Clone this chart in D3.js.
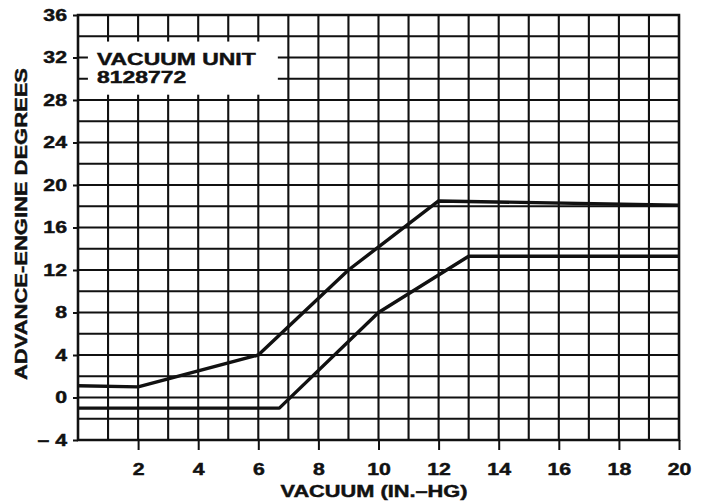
<!DOCTYPE html>
<html>
<head>
<meta charset="utf-8">
<script src="https://cdn.jsdelivr.net/npm/d3@7"></script>
<style>
  html, body { margin: 0; padding: 0; background: #fff; }
  svg { display: block; }
  text { font-family: "Liberation Sans", Arial, Helvetica, sans-serif; font-weight: bold; fill: #111; stroke: #111; stroke-width: 0.45px; }
</style>
</head>
<body>
<svg id="chart" width="702" height="504"></svg>
<script>
// Vacuum advance curves: upper and lower limits (degrees vs in. Hg)
const upperVacuum  = [0, 2, 6, 9, 12, 20];
const upperAdvance = [1.1, 1.0, 4.0, 12.0, 18.5, 18.1];
const lowerVacuum  = [0, 6.7, 10, 13, 20];
const lowerAdvance = [-1.0, -1.0, 8.0, 13.3, 13.3];

const xTickValues = [2, 4, 6, 8, 10, 12, 14, 16, 18, 20];
const xTickLabels = ["2", "4", "6", "8", "10", "12", "14", "16", "18", "20"];
const yTickValues = [-4, 0, 4, 8, 12, 16, 20, 24, 28, 32, 36];
const yTickLabels = ["\u2013 4", "0", "4", "8", "12", "16", "20", "24", "28", "32", "36"];

const unitTitle = "VACUUM UNIT";
const unitNumber = "8128772";
const xTitle = "VACUUM (IN.\u2013HG)";
const yTitle = "ADVANCE-ENGINE DEGREES";

const svg = d3.select("#chart");
const ink = "#111";

const x = d3.scaleLinear().domain([0, 20]).range([78, 679]);
const y = d3.scaleLinear().domain([-4, 36]).range([440, 15]);

// Grid: every 1 in. Hg vertically, every 2 degrees horizontally
const grid = svg.append("g").attr("stroke", ink).attr("stroke-width", 2.1);
grid.selectAll("line.v").data(d3.range(0, 21)).join("line")
  .attr("x1", d => x(d)).attr("x2", d => x(d))
  .attr("y1", y(36)).attr("y2", y(-4));
grid.selectAll("line.h").data(d3.range(-4, 37, 2)).join("line")
  .attr("x1", x(0)).attr("x2", x(20))
  .attr("y1", d => y(d)).attr("y2", d => y(d));

// Frame
svg.append("rect")
  .attr("x", x(0)).attr("y", y(36))
  .attr("width", x(20) - x(0)).attr("height", y(-4) - y(36))
  .attr("fill", "none").attr("stroke", ink).attr("stroke-width", 2.5);

// Label panel blanking the grid behind the unit caption
svg.append("rect")
  .attr("x", x(0.33)).attr("y", y(33.5))
  .attr("width", x(6.65) - x(0.33)).attr("height", y(28.5) - y(33.5))
  .attr("fill", "#fff");

const sx = 1.33; // wide lettering

svg.append("text")
  .attr("transform", `translate(${x(0.63)},65) scale(1.39,1)`)
  .attr("font-size", 16.5).text(unitTitle);
svg.append("text")
  .attr("transform", `translate(${x(0.63)},83) scale(1.39,1)`)
  .attr("font-size", 16.5).text(unitNumber);

// Axes
const xAxis = d3.axisBottom(x).tickValues(xTickValues)
  .tickFormat((d, i) => xTickLabels[i]).tickSize(10).tickPadding(13.5);
const gx = svg.append("g").attr("transform", `translate(0,${y(-4)})`).call(xAxis);
gx.select(".domain").remove();
gx.selectAll(".tick line").attr("stroke", ink).attr("stroke-width", 2);
gx.selectAll(".tick text")
  .attr("font-size", 16).attr("fill", ink)
  .attr("font-family", null)
  .attr("transform", `scale(${sx},1)`);

const yAxis = d3.axisLeft(y).tickValues(yTickValues)
  .tickFormat((d, i) => yTickLabels[i]).tickSize(5).tickPadding(0);
const gy = svg.append("g").attr("transform", `translate(${x(0)},0)`).call(yAxis);
gy.select(".domain").remove();
gy.selectAll(".tick line").attr("stroke", ink).attr("stroke-width", 2);
gy.selectAll(".tick text")
  .attr("font-size", 16).attr("fill", ink)
  .attr("font-family", null)
  .attr("x", 0)
  .attr("transform", `translate(-11,0) scale(${sx},1)`);

// Curves
const line = d3.line().x(d => x(d[0])).y(d => y(d[1]));
const curves = [
  d3.zip(upperVacuum, upperAdvance),
  d3.zip(lowerVacuum, lowerAdvance)
];
svg.append("g").selectAll("path").data(curves).join("path")
  .attr("d", line)
  .attr("fill", "none").attr("stroke", ink)
  .attr("stroke-width", 3.4).attr("stroke-linejoin", "round");

// Axis titles
svg.append("text")
  .attr("x", 374).attr("y", 497)
  .attr("text-anchor", "middle").attr("font-size", 16)
  .attr("textLength", 187).attr("lengthAdjust", "spacingAndGlyphs")
  .text(xTitle);

svg.append("text")
  .attr("transform", `translate(27,224) rotate(-90)`)
  .attr("text-anchor", "middle").attr("font-size", 17)
  .attr("textLength", 312).attr("lengthAdjust", "spacingAndGlyphs")
  .text(yTitle);
</script>
</body>
</html>
